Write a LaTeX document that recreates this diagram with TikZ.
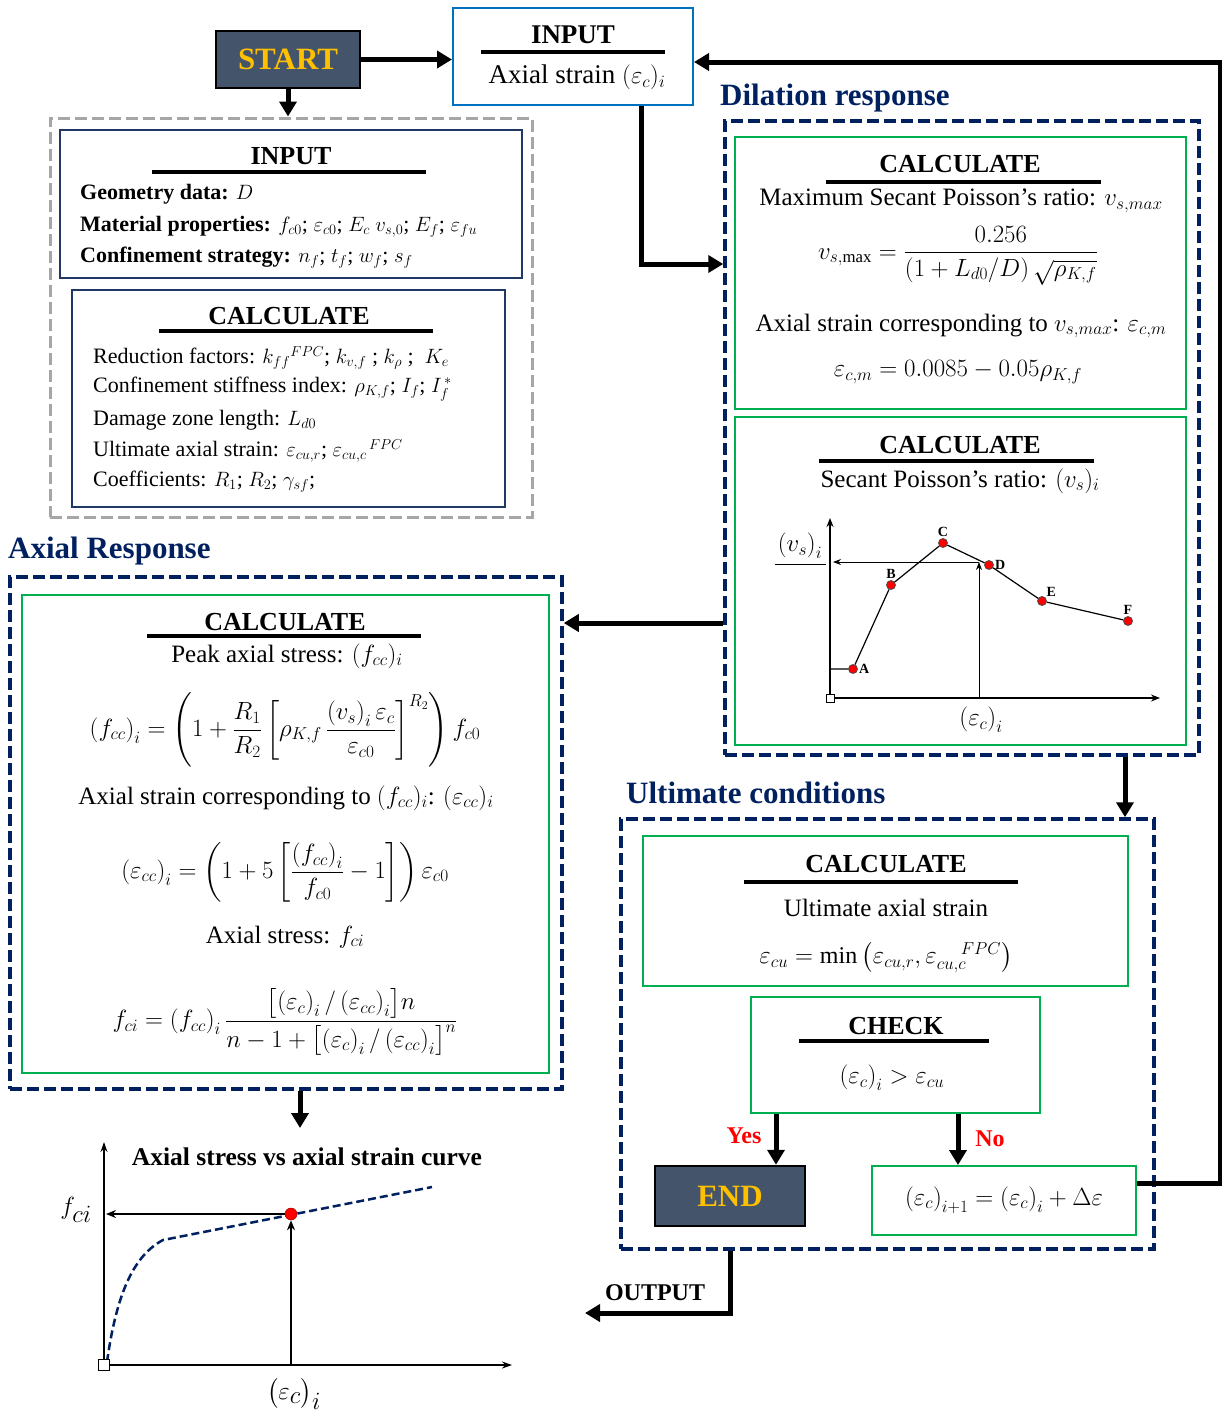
\documentclass[tikz,border=0pt]{standalone}
\usepackage{amsmath}
\usepackage{fontspec}
\setmainfont{Liberation Serif}
\usetikzlibrary{arrows.meta,positioning}
\definecolor{slate}{HTML}{44546A}
\definecolor{gold}{HTML}{FFC000}
\definecolor{navy}{HTML}{002060}
\definecolor{grn}{HTML}{00B050}
\definecolor{skyb}{HTML}{0070C0}
\definecolor{dkblue}{HTML}{1F3864}
\definecolor{grey}{HTML}{A6A6A6}
\begin{document}
\begin{tikzpicture}[x=1pt, y=-1pt,
  frame/.style={draw=navy, line width=3.5, dash pattern=on 12pt off 5pt, inner sep=0},
  calc/.style={draw=grn, line width=2, inner sep=0},
  term/.style={draw=black, fill=slate, line width=2.5, text=gold, inner sep=0, font=\bfseries\fontsize{31}{31}\selectfont},
  flow/.style={line width=5, -{Triangle[length=15pt,width=17pt]}},
  bar/.style={line width=4},
  hd/.style={inner sep=0, font=\bfseries\fontsize{26}{26}\selectfont},
  ttl/.style={inner sep=0, anchor=west, text=navy, font=\bfseries\fontsize{31}{31}\selectfont},
  txt/.style={inner sep=0, font=\fontsize{25}{28}\selectfont},
  sml/.style={inner sep=0, anchor=west, font=\fontsize{22}{26}\selectfont},
  eq/.style={inner sep=0, font=\fontsize{24}{28}\selectfont},
  axis/.style={line width=1.2, -{Stealth[length=9pt,width=7pt]}},
  pt/.style={circle, draw=black!70, fill=red, line width=0.8, minimum size=9, inner sep=0},
  ptlbl/.style={font=\bfseries\fontsize{14}{14}\selectfont, inner sep=1}]
  \useasboundingbox (0,0) rectangle (1222,1417);

  % start and input
  \node[term, minimum width=144, minimum height=57] (start) at (288,59.5) {START};
  \node[draw=skyb, line width=2, minimum width=240, minimum height=97] (inp) at (573,56.5) {};
  \node[hd, font=\bfseries\fontsize{27}{27}\selectfont] (inphd) at (573,35) {INPUT};
  \draw[bar] (481,52) -- (665,52);
  \node[inner sep=0, font=\fontsize{27}{30}\selectfont] (inptx) at (577,77) {Axial strain $(\varepsilon_c)_i$};

  % initial data
  \node[draw=grey, line width=3, dash pattern=on 12pt off 5pt, minimum width=482, minimum height=399] (setup) at (291,317.5) {};
  \node[draw=dkblue, line width=2, minimum width=462, minimum height=148] (geom) at (291,204) {};
  \node[hd] (geomhd) at (291,156) {INPUT};
  \draw[bar] (152,172) -- (426,172);
  \node[sml] (g1) at (80,194) {\textbf{Geometry data:} $D$};
  \node[sml] (g2) at (80,227) {\textbf{Material properties:} $f_{c0}$; $\varepsilon_{c0}$; $E_c\ v_{s,0}$; $E_f$; $\varepsilon_{fu}$};
  \node[sml] (g3) at (80,258) {\textbf{Confinement strategy:} $n_f$; $t_f$; $w_f$; $s_f$};
  \node[draw=dkblue, line width=2, minimum width=433, minimum height=217] (calc0) at (288.5,398.5) {};
  \node[hd] (calc0hd) at (289,316) {CALCULATE};
  \draw[bar] (159,331) -- (433,331);
  \node[sml] (c1) at (93,358) {Reduction factors: $k_{ff}{}^{FPC}$; $k_{v,f}$ ; $k_\rho$ ;\ \ $K_e$};
  \node[sml] (c2) at (93,389) {Confinement stiffness index: $\rho_{K,f}$; $I_f$; $I_f^{\,*}$};
  \node[sml] (c3) at (93,420) {Damage zone length: $L_{d0}$};
  \node[sml] (c4) at (93,451) {Ultimate axial strain: $\varepsilon_{cu,r}$; $\varepsilon_{cu,c}{}^{\,FPC}$};
  \node[sml] (c5) at (93,482) {Coefficients: $R_1$; $R_2$; $\gamma_{sf}$;};

  % dilation response
  \node[ttl] (diltl) at (720,98) {Dilation response};
  \node[frame, minimum width=474, minimum height=634] (dilation) at (962,438) {};
  \node[calc, minimum width=451, minimum height=272] (calcmax) at (960.5,273) {};
  \node[hd] (calcmaxhd) at (960,164) {CALCULATE};
  \draw[bar] (826,182) -- (1101,182);
  \node[txt] (m1) at (961,201) {Maximum Secant Poisson’s ratio: $v_{s,max}$};
  \node[eq] (m2) at (958,256) {$\displaystyle v_{s,\max}=\frac{0.256}{\left(1+L_{d0}/D\right)\sqrt{\rho_{K,f}}}$};
  \node[txt] (m3) at (961,326) {Axial strain corresponding to $v_{s,max}$: $\varepsilon_{c,m}$};
  \node[eq] (m4) at (958,372) {$\varepsilon_{c,m}=0.0085-0.05\rho_{K,f}$};
  \node[calc, minimum width=451, minimum height=328] (calcvs) at (960.5,581) {};
  \node[hd] (calcvshd) at (960,445) {CALCULATE};
  \draw[bar] (819,461) -- (1094,461);
  \node[txt] (s1) at (960,481) {Secant Poisson’s ratio: $(v_s)_i$};
  % poisson ratio curve
  \draw[axis] (830,698) -- (830,518);
  \draw[axis] (830,698) -- (1160,698);
  \node[pt, label={[ptlbl]right:A}] (pA) at (853,669) {};
  \node[pt, label={[ptlbl]above:B}] (pB) at (891,585) {};
  \node[pt, label={[ptlbl]above:C}] (pC) at (943,543) {};
  \node[pt, label={[ptlbl]right:D}] (pD) at (989,565) {};
  \node[pt, label={[ptlbl]above right:E}] (pE) at (1042,601) {};
  \node[pt, label={[ptlbl]above:F}] (pF) at (1128,621) {};
  \draw[line width=1.2] (830,669) -- (pA) -- (pB) -- (pC) -- (pD) -- (pE) -- (pF);
  \draw[line width=0.8, -{Stealth[length=8pt,width=6pt]}] (979,698) -- (979,562);
  \draw[line width=0.8, -{Stealth[length=8pt,width=6pt]}] (979,562) -- (833,562);
  \node[draw, fill=white, minimum size=8, inner sep=0, line width=0.8] (o1) at (830,698) {};
  \node[eq] (vsl) at (800,546) {$\left(v_s\right)_i$};
  \draw[line width=1] (775,564) -- (826,564);
  \node[eq] (ecl) at (981,720) {$\left(\varepsilon_c\right)_i$};

  % axial response
  \node[ttl] (axtl) at (8,551) {Axial Response};
  \node[frame, minimum width=552, minimum height=512] (axial) at (286,833) {};
  \node[calc, minimum width=527, minimum height=478] (calcfc) at (285.5,834) {};
  \node[hd] (calcfchd) at (285,622) {CALCULATE};
  \draw[bar] (147,636) -- (421,636);
  \node[txt] (a1) at (287,656) {Peak axial stress: $(f_{cc})_i$};
  \node[eq] (a2) at (285,730) {$\displaystyle \left(f_{cc}\right)_i=\left(1+\frac{R_1}{R_2}\left[\rho_{K,f}\,\frac{\left(v_s\right)_i\varepsilon_c}{\varepsilon_{c0}}\right]^{R_2}\right)f_{c0}$};
  \node[txt] (a3) at (286,798) {Axial strain corresponding to $(f_{cc})_i$: $(\varepsilon_{cc})_i$};
  \node[eq] (a4) at (285,872) {$\displaystyle \left(\varepsilon_{cc}\right)_i=\left(1+5\left[\frac{\left(f_{cc}\right)_i}{f_{c0}}-1\right]\right)\varepsilon_{c0}$};
  \node[txt] (a5) at (285,937) {Axial stress: $f_{ci}$};
  \node[eq] (a6) at (285,1022) {$\displaystyle f_{ci}=\left(f_{cc}\right)_i\frac{\bigl[\left(\varepsilon_c\right)_i/\left(\varepsilon_{cc}\right)_i\bigr]n}{n-1+\bigl[\left(\varepsilon_c\right)_i/\left(\varepsilon_{cc}\right)_i\bigr]^n}$};

  % stress strain curve
  \node[inner sep=0, font=\bfseries\fontsize{25.5}{26}\selectfont] (crvtl) at (307,1157) {Axial stress vs axial strain curve};
  \draw[line width=2, -{Stealth[length=10pt,width=7pt]}] (104,1365) -- (104,1142);
  \draw[line width=2, -{Stealth[length=10pt,width=7pt]}] (104,1365) -- (512,1365);
  \draw[navy, line width=2.5, dash pattern=on 8pt off 4pt] (107,1362) .. controls (117,1290) and (135,1255) .. (163,1240) -- (432,1187);
  \node[circle, fill=red, draw=red!60!black, line width=0.5, minimum size=12, inner sep=0] (pk) at (291,1214) {};
  \draw[line width=2.5, -{Stealth[length=10pt,width=8pt]}] (291,1365) -- (pk);
  \draw[line width=2.5, -{Stealth[length=10pt,width=8pt]}] (pk) -- (106,1214);
  \node[draw, fill=white, minimum size=11, inner sep=0, line width=1] (o2) at (104,1365) {};
  \node[inner sep=0, font=\fontsize{38}{38}\selectfont] (fcil) at (76,1210) {$f_{ci}$};
  \node[inner sep=0, font=\fontsize{36}{36}\selectfont] (ecil) at (294,1394) {$\bigl(\varepsilon_c\bigr)_i$};

  % ultimate conditions
  \node[ttl] (ulttl) at (626,793) {Ultimate conditions};
  \node[frame, minimum width=533, minimum height=430] (ultimate) at (887.5,1034) {};
  \node[calc, minimum width=485, minimum height=150] (calcu) at (885.5,911) {};
  \node[hd] (calcuhd) at (886,864) {CALCULATE};
  \draw[bar] (744,882) -- (1018,882);
  \node[txt] (u1) at (886,908) {Ultimate axial strain};
  \node[eq] (u2) at (886,958) {$\varepsilon_{cu}=\min\left(\varepsilon_{cu,r},\varepsilon_{cu,c}^{\quad FPC}\right)$};
  \node[calc, minimum width=289, minimum height=116] (check) at (895.5,1055) {};
  \node[hd] (checkhd) at (896,1026) {CHECK};
  \draw[bar] (799,1041) -- (989,1041);
  \node[eq] (ck) at (892,1078) {$\left(\varepsilon_c\right)_i>\varepsilon_{cu}$};
  \node[term, minimum width=150, minimum height=60] (stop) at (730,1196) {END};
  \node[calc, minimum width=264, minimum height=69] (incr) at (1004,1200.5) {};
  \node[eq] (inc) at (1004,1200) {$\left(\varepsilon_c\right)_{i+1}=\left(\varepsilon_c\right)_i+\Delta\varepsilon$};
  \node[inner sep=0, text=red, font=\bfseries\fontsize{24}{24}\selectfont] (yes) at (744,1136) {Yes};
  \node[inner sep=0, text=red, font=\bfseries\fontsize{24}{24}\selectfont] (no) at (990,1139) {No};
  \node[inner sep=0, font=\bfseries\fontsize{24}{24}\selectfont] (outp) at (655,1293) {OUTPUT};

  % connectors
  \coordinate (loop) at (1220,62);
  \coordinate (outend) at (585,1313);
  \draw[flow] (start.east) -- (start.east -| inp.west);
  \draw[flow] (start.south) -- (start.south |- setup.north);
  \draw[flow] ([xshift=68pt]inp.south) |- (dilation.west |- 0,264);
  \draw[flow] ([yshift=17pt]incr.east) -| (loop) -- (loop -| inp.east);
  \draw[flow] (dilation.west |- 0,623) -- (axial.east |- 0,623);
  \draw[flow] (dilation.south -| 1125,0) -- (ultimate.north -| 1125,0);
  \draw[flow] (axial.south -| 300,0) -- (300,1128);
  \draw[flow] (check.south -| 776,0) -- (stop.north -| 776,0);
  \draw[flow] (check.south -| 958,0) -- (incr.north -| 958,0);
  \draw[flow] (ultimate.south -| stop.south) |- (outend);
\end{tikzpicture}
\end{document}
